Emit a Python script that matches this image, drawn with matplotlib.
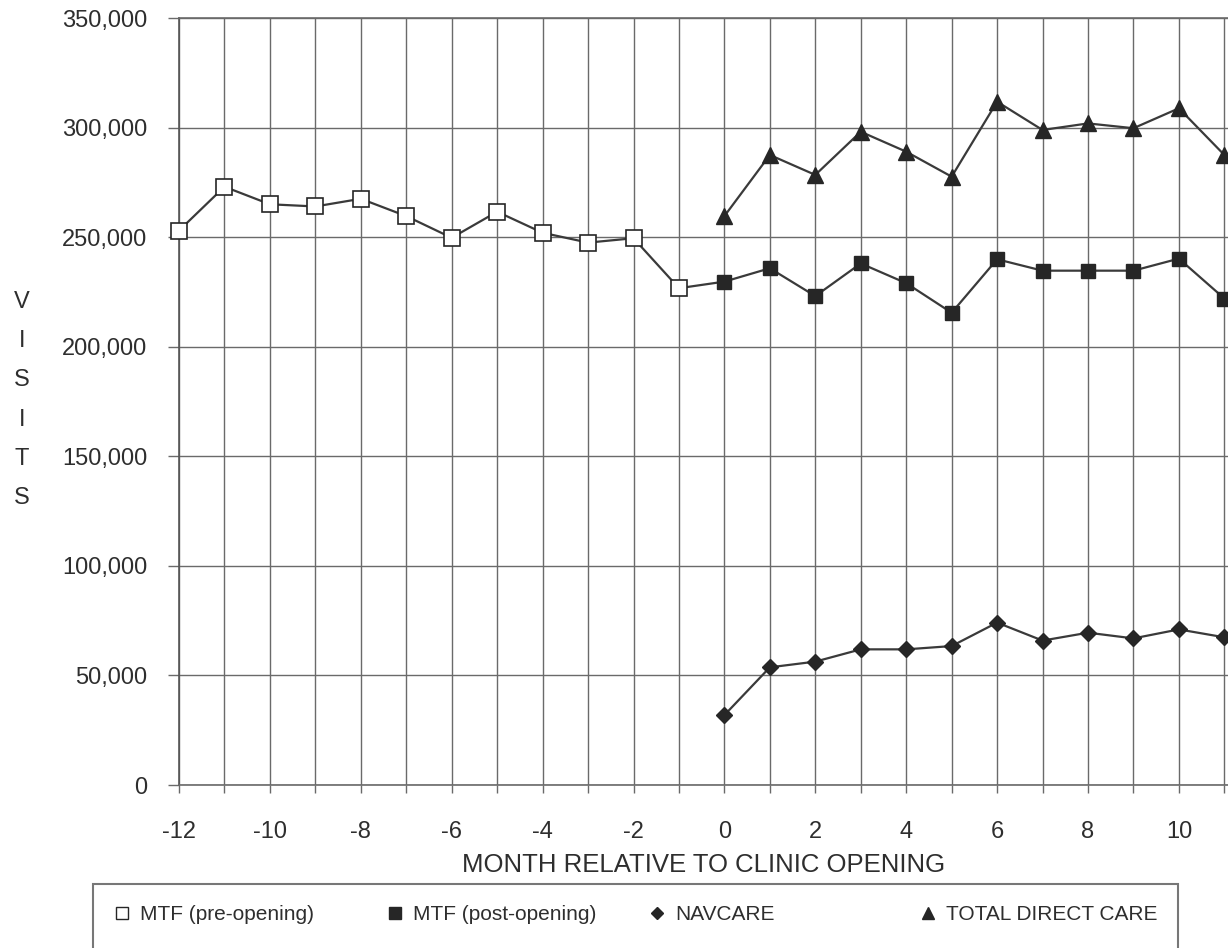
import matplotlib
matplotlib.use("Agg")
import matplotlib.pyplot as plt
from matplotlib.ticker import MultipleLocator, FuncFormatter
from matplotlib.lines import Line2D
from matplotlib.patches import Rectangle

# ---------------- data ----------------
months_pre = [-12, -11, -10, -9, -8, -7, -6, -5, -4, -3, -2, -1]
mtf_pre = [253000, 273000, 265000, 264000, 267500, 259600, 249700, 261600,
           252000, 247500, 249500, 226700]

months_post = [0, 1, 2, 3, 4, 5, 6, 7, 8, 9, 10, 11]
mtf_post = [229700, 235800, 223100, 238000, 229000, 215500, 239900, 234700,
            234700, 234700, 240200, 222000]
navcare = [31900, 53700, 56300, 61900, 61900, 63400, 74100, 65900,
           69500, 66900, 71000, 67400]
total_direct = [259600, 287500, 278400, 298100, 289000, 277600, 311800,
                298900, 301900, 299700, 308800, 287500]

x_tick_labels = ["-12", "-10", "-8", "-6", "-4", "-2", "0", "2", "4", "6", "8", "10"]
legend_labels = ["MTF (pre-opening)", "MTF (post-opening)", "NAVCARE", "TOTAL DIRECT CARE"]
y_label_letters = ["V", "I", "S", "I", "T", "S"]
x_label = "MONTH RELATIVE TO CLINIC OPENING"

# ---------------- style ----------------
plt.rcParams['font.family'] = ['Liberation Sans', 'DejaVu Sans']
W, H = 1228, 948
fig = plt.figure(figsize=(W / 100, H / 100), dpi=100)

ax_left, ax_right, ax_top, ax_bottom = 179, 1228, 18, 785
ax = fig.add_axes([ax_left / W, 1 - ax_bottom / H, (ax_right - ax_left) / W,
                   (ax_bottom - ax_top) / H])

line_c = "#3a3a3a"
mark_c = "#262626"
grid_c = "#6a6a6a"
text_c = "#2e2e2e"

# MTF line across pre and post periods
ax.plot(months_pre + months_post, mtf_pre + mtf_post, color=line_c, lw=1.6, zorder=3)
h_pre, = ax.plot(months_pre, mtf_pre, ls='none', marker='s', ms=12, mfc='white',
                 mec=mark_c, mew=1.2, zorder=4, clip_on=False)
h_post, = ax.plot(months_post, mtf_post, ls='none', marker='s', ms=10, mfc=mark_c,
                  mec=mark_c, zorder=4)
h_nav, = ax.plot(months_post, navcare, color=line_c, lw=1.6, marker='D', ms=8,
                 mfc=mark_c, mec=mark_c, zorder=4)
h_tot, = ax.plot(months_post, total_direct, color=line_c, lw=1.6, marker='^', ms=11,
                 mfc=mark_c, mec=mark_c, zorder=4)

ax.set_xlim(-12, -12 + (ax_right - ax_left) / 45.45)
ax.set_ylim(0, 350000)

ax.xaxis.set_major_locator(MultipleLocator(1))
even_pos = [int(s) for s in x_tick_labels]
ax.xaxis.set_major_formatter(FuncFormatter(
    lambda v, p: x_tick_labels[even_pos.index(int(round(v)))] if int(round(v)) in even_pos else ""))
ax.yaxis.set_major_locator(MultipleLocator(50000))
ax.yaxis.set_major_formatter(FuncFormatter(lambda v, p: f"{int(v):,}"))

ax.grid(True, color=grid_c, lw=1.0)
ax.set_axisbelow(True)
ax.spines['right'].set_visible(False)
for s in ['top', 'bottom']:
    ax.spines[s].set_color(grid_c)
    ax.spines[s].set_linewidth(1.2)
ax.spines['left'].set_color("#555555")
ax.spines['left'].set_linewidth(1.2)

ax.tick_params(axis='y', length=8, width=1, color=grid_c, pad=15, labelsize=17,
               labelcolor=text_c)
ax.tick_params(axis='x', length=6, width=1, color=grid_c, pad=20, labelsize=17,
               labelcolor=text_c)

ax.set_xlabel(x_label, fontsize=18.5, color=text_c)
ax.xaxis.set_label_coords(0.5, (ax_bottom - 853) / (ax_bottom - ax_top))

# vertical stacked y label
for i, ch in enumerate(y_label_letters):
    fig.text(22 / W, 1 - (302 + i * 39.2) / H, ch, ha='center', va='center',
             fontsize=17, color=text_c)

# legend box
fig.add_artist(Rectangle((93 / W, -0.05), (1178 - 93) / W, (948 - 884) / H + 0.05,
                         transform=fig.transFigure, fill=False, edgecolor="#777777",
                         lw=1.5))

handles = [
    Line2D([], [], ls='none', marker='s', ms=9, mfc='white', mec=mark_c, mew=1.0),
    Line2D([], [], ls='none', marker='s', ms=9, mfc=mark_c, mec=mark_c),
    Line2D([], [], ls='none', marker='D', ms=6.5, mfc=mark_c, mec=mark_c),
    Line2D([], [], ls='none', marker='^', ms=8, mfc=mark_c, mec=mark_c),
]
marker_x = [122, 395, 657, 928]
leg_fs = 15
for h, lab, mx in zip(handles, legend_labels, marker_x):
    x0 = mx - 0.5 * leg_fs * 100 / 72
    fig.legend([h], [lab], loc='center left', bbox_to_anchor=(x0 / W, 1 - 915 / H),
               frameon=False, fontsize=leg_fs, handlelength=1.0, handletextpad=0.36,
               borderpad=0, borderaxespad=0, labelcolor=text_c)

fig.savefig("out.png", dpi=100)
